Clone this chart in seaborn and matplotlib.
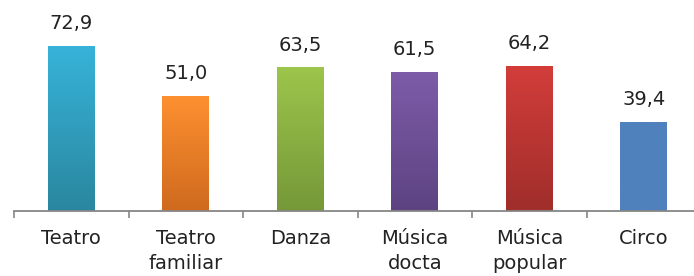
import numpy as np
import matplotlib
matplotlib.use("Agg")
import matplotlib.pyplot as plt
from matplotlib.colors import LinearSegmentedColormap
import seaborn as sns

# --- data ---
categories = ["Teatro", "Teatro\nfamiliar", "Danza", "Música\ndocta", "Música\npopular", "Circo"]
values = [72.9, 51.0, 63.5, 61.5, 64.2, 39.4]
top_colors = ["#37b3d9", "#fd9030", "#9cc54b", "#7d5ca8", "#d23d3a", "#4f81bd"]
bottom_colors = ["#2a879f", "#cf6a1e", "#769839", "#5d4382", "#a02e2b", "#4f81bd"]

sns.set_style("white")
plt.rcParams["font.family"] = ["DejaVu Sans"]

fig = plt.figure(figsize=(6.94, 2.76), dpi=100)
ax = fig.add_axes([14 / 694, 65 / 276, 687 / 694, 211 / 276])

sns.barplot(x=categories, y=values, hue=categories, palette=top_colors,
            width=0.41, legend=False, ax=ax, saturation=1)

# vertical gradient on each bar
grad = np.linspace(0, 1, 100).reshape(-1, 1)
for patch, c_top, c_bot in zip(ax.patches, top_colors, bottom_colors):
    x0, y0 = patch.get_x(), patch.get_y()
    w, h = patch.get_width(), patch.get_height()
    cmap = LinearSegmentedColormap.from_list("g", [c_bot, c_top])
    im = ax.imshow(grad, cmap=cmap, aspect="auto", origin="lower",
                   extent=(x0, x0 + w, y0, y0 + h), zorder=patch.get_zorder() + 0.1)
    im.set_clip_path(patch)

ax.set_xlim(-0.5, 5.5)
ax.set_ylim(0, 93.2)

for i, v in enumerate(values):
    ax.annotate(f"{v:.1f}".replace(".", ","), (i, v), xytext=(0, 9),
                textcoords="offset points", ha="center", va="bottom",
                fontsize=14, color="#222222", clip_on=False)

# ticks at category boundaries, labels centered
ax.set_xticks(np.arange(-0.5, 6.0, 1.0))
ax.set_xticklabels([])
ax.set_xticks(np.arange(len(categories)), minor=True)
ax.set_xticklabels(categories, minor=True, fontsize=14, color="#222222", linespacing=1.4)
ax.tick_params(axis="x", which="major", length=5, width=1.2, color="#868686", direction="out", bottom=True)
ax.tick_params(axis="x", which="minor", length=0, pad=13)
ax.set_yticks([])
ax.set_xlabel("")
ax.set_ylabel("")

for side in ["top", "right", "left"]:
    ax.spines[side].set_visible(False)
ax.spines["bottom"].set_color("#868686")
ax.spines["bottom"].set_linewidth(1.3)

fig.savefig("out.png", dpi=100)
